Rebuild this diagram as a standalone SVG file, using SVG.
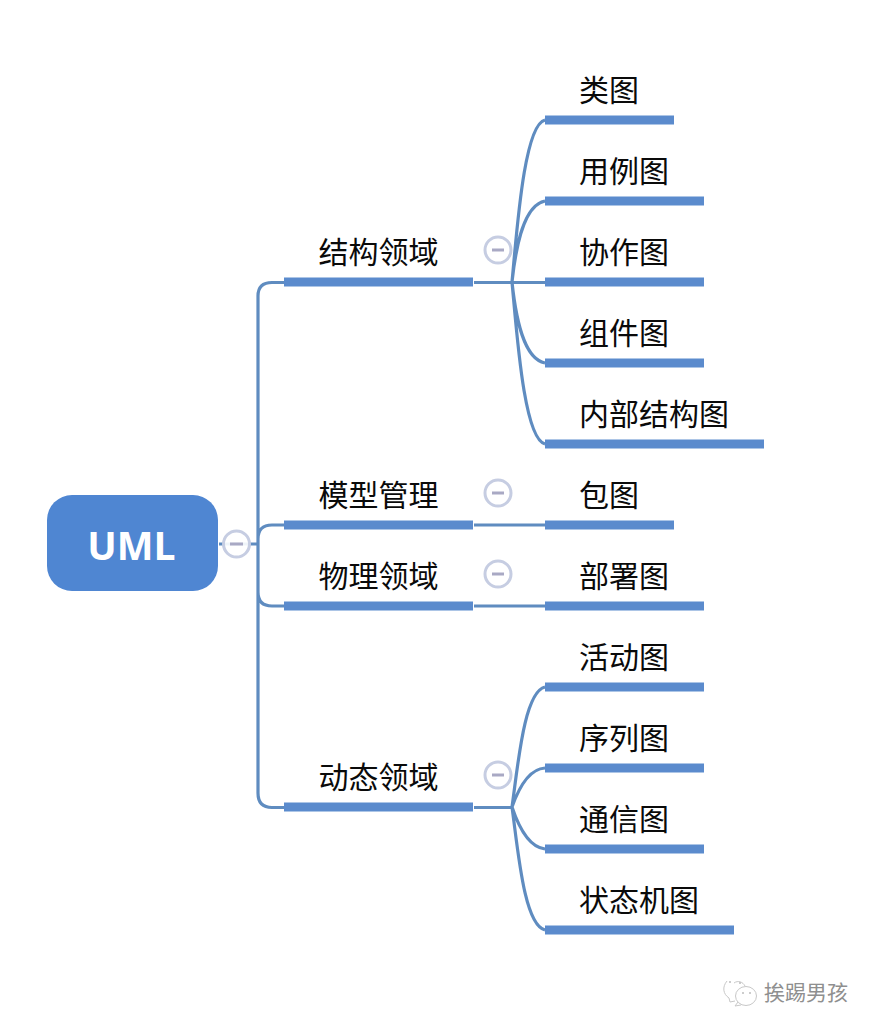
<svg xmlns="http://www.w3.org/2000/svg" width="876" height="1032" viewBox="0 0 876 1032">
<style>
.bar{fill:#5b8bcd}
.c{fill:none;stroke:#5f8cc0;stroke-width:3.200}
.t{font-family:"Noto Sans CJK SC","Noto Sans",sans-serif;font-size:30px;fill:#0a0a0a}
.tg{fill:#fff;fill-opacity:.9;stroke:#c6cde2;stroke-width:3}
.m{stroke:#a9a9c4;stroke-width:3;fill:none}
.w{fill:none;stroke:#c8c8c8;stroke-width:1}
.d{fill:#bdbdbd}
</style>
<rect width="876" height="1032" fill="#ffffff"/>
<g id="connectors">
<path class="c" d="M219 544H258M284 282.500H272Q258 282.500 258 296V793Q258 807.500 272 807.500H284M258 539Q258 525 272 525H284M258 592Q258 606 272 606H284"/>
<path class="c" d="M474 282.500H545M512 282C517 230 524 125 545 120M512 282C516 245 524 205 545 201M512 282C516 320 524 359 545 363M512 282C517 335 524 439 545 444"/>
<path class="c" d="M474 525H545M474 606H545"/>
<path class="c" d="M474 807.500H512M512 807C518 765 524 692 545 687M512 807C518 790 528 769 545 768M512 807C518 825 528 847 545 849M512 807C518 850 524 925 545 930"/>
</g>
<g id="root"><rect x="47" y="495" width="171" height="96" rx="25" fill="#4f86d2"/><text x="131.500" y="560" text-anchor="middle" font-family="Open Sans,sans-serif" font-weight="700" font-size="39" fill="#fff">UML</text></g>
<g id="toggle-root"><circle class="tg" cx="236.500" cy="544" r="13"/><path class="m" d="M230 544H243"/></g>
<g id="n1"><rect class="bar" x="284" y="277.500" width="189" height="9"/><text class="t" x="318.500" y="263">结构领域</text></g>
<g id="toggle-1"><circle class="tg" cx="498" cy="250" r="13"/><path class="m" d="M492 250H504"/></g>
<g id="n2"><rect class="bar" x="284" y="520.500" width="189" height="9"/><text class="t" x="318.500" y="506">模型管理</text></g>
<g id="toggle-2"><circle class="tg" cx="498" cy="493" r="13"/><path class="m" d="M492 493H504"/></g>
<g id="n3"><rect class="bar" x="284" y="601.500" width="189" height="9"/><text class="t" x="318.500" y="587">物理领域</text></g>
<g id="toggle-3"><circle class="tg" cx="498" cy="574" r="13"/><path class="m" d="M492 574H504"/></g>
<g id="n4"><rect class="bar" x="284" y="802.500" width="189" height="9"/><text class="t" x="318.500" y="788">动态领域</text></g>
<g id="toggle-4"><circle class="tg" cx="498" cy="775" r="13"/><path class="m" d="M492 775H504"/></g>
<g id="l1"><rect class="bar" x="545" y="115.500" width="129" height="9"/><text class="t" x="579" y="101">类图</text></g>
<g id="l2"><rect class="bar" x="545" y="196.500" width="159" height="9"/><text class="t" x="579" y="182">用例图</text></g>
<g id="l3"><rect class="bar" x="545" y="277.500" width="159" height="9"/><text class="t" x="579" y="263">协作图</text></g>
<g id="l4"><rect class="bar" x="545" y="358.500" width="159" height="9"/><text class="t" x="579" y="344">组件图</text></g>
<g id="l5"><rect class="bar" x="545" y="439.500" width="219" height="9"/><text class="t" x="579" y="425">内部结构图</text></g>
<g id="l6"><rect class="bar" x="545" y="520.500" width="129" height="9"/><text class="t" x="579" y="506">包图</text></g>
<g id="l7"><rect class="bar" x="545" y="601.500" width="159" height="9"/><text class="t" x="579" y="587">部署图</text></g>
<g id="l8"><rect class="bar" x="545" y="682.500" width="159" height="9"/><text class="t" x="579" y="668">活动图</text></g>
<g id="l9"><rect class="bar" x="545" y="763.500" width="159" height="9"/><text class="t" x="579" y="749">序列图</text></g>
<g id="l10"><rect class="bar" x="545" y="844.500" width="159" height="9"/><text class="t" x="579" y="830">通信图</text></g>
<g id="l11"><rect class="bar" x="545" y="925.500" width="189" height="9"/><text class="t" x="579" y="911">状态机图</text></g>
<g id="watermark"><path class="w" d="M727 981C722 987 723 994 729 998L730 1002L735 1001"/><path class="w" d="M734 983C738 980 743 982 745 986"/><ellipse class="w" cx="746" cy="996" rx="10.500" ry="9.500"/><path class="w" d="M738 1002L735 1006L741 1005"/><circle class="d" cx="730" cy="982" r="1"/><circle class="d" cx="740" cy="983" r="1"/><circle class="d" cx="743" cy="993" r="1"/><circle class="d" cx="750" cy="993" r="1"/><text x="764" y="1000" font-family="Noto Sans CJK SC,sans-serif" font-size="21" fill="#8f8f8f">挨踢男孩</text></g>
</svg>
